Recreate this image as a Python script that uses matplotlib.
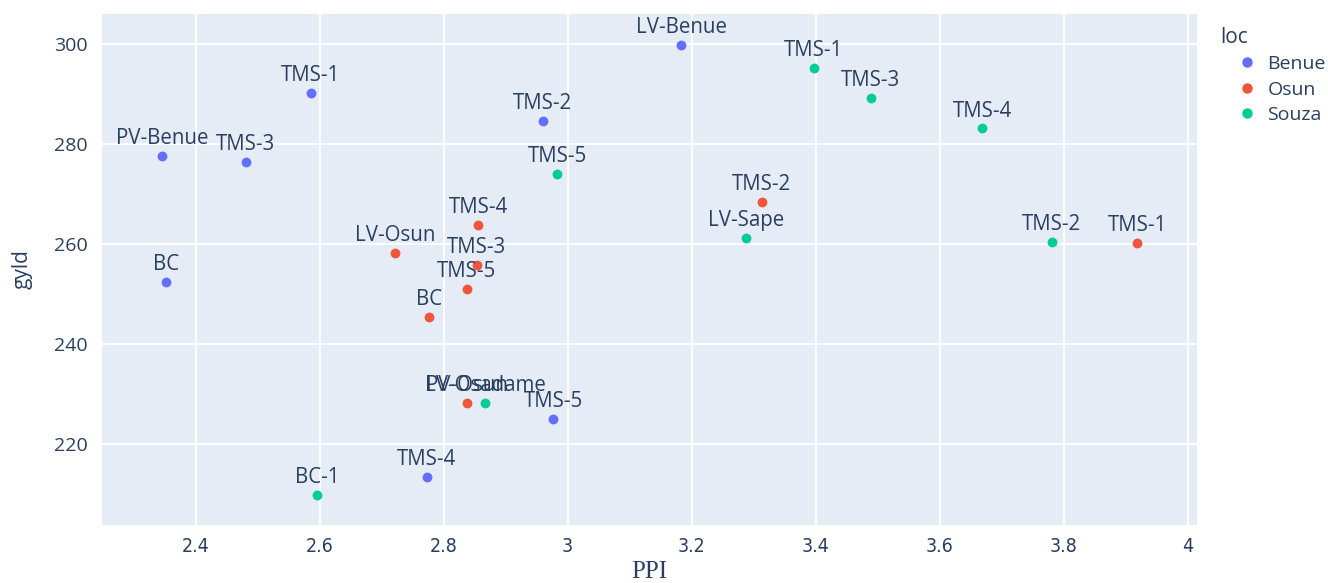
import matplotlib
matplotlib.use("Agg")
import matplotlib.pyplot as plt
from matplotlib.lines import Line2D

# ---- data ----
benue_labels = ["PV-Benue", "BC", "TMS-3", "TMS-1", "TMS-2", "LV-Benue", "TMS-5", "TMS-4"]
benue_ppi = [2.346, 2.352, 2.481, 2.586, 2.960, 3.183, 2.977, 2.773]
benue_gyld = [277.7, 252.5, 276.4, 290.3, 284.7, 299.8, 225.1, 213.5]

osun_labels = ["LV-Osun", "BC", "TMS-4", "TMS-3", "TMS-5", "PV-Osun", "TMS-2", "TMS-1"]
osun_ppi = [2.722, 2.776, 2.856, 2.853, 2.837, 2.837, 3.313, 3.919]
osun_gyld = [258.2, 245.4, 263.9, 255.8, 251.1, 228.3, 268.5, 260.3]

souza_labels = ["TMS-1", "TMS-3", "TMS-4", "TMS-5", "LV-Sape", "TMS-2", "BC-1", "LV-Osadame"]
souza_ppi = [3.397, 3.489, 3.669, 2.983, 3.288, 3.781, 2.596, 2.867]
souza_gyld = [295.3, 289.3, 283.1, 274.0, 261.3, 260.5, 209.9, 228.3]

groups = ["Benue", "Osun", "Souza"]
colors = ["#636EFA", "#EF553B", "#00CC96"]

x_ticks = [2.4, 2.6, 2.8, 3.0, 3.2, 3.4, 3.6, 3.8, 4.0]
x_ticklabels = ["2.4", "2.6", "2.8", "3", "3.2", "3.4", "3.6", "3.8", "4"]
y_ticks = [220, 240, 260, 280, 300]

# ---- figure ----
TXT = "#2a3f5f"
plt.rcParams["font.family"] = ["Open Sans", "DejaVu Sans"]

fig = plt.figure(figsize=(13.28, 5.83), dpi=100)
fig.patch.set_facecolor("white")
ax = fig.add_axes([102 / 1328, 1 - 525 / 583, (1197 - 102) / 1328, (525 - 14) / 583])
ax.set_facecolor("#E5ECF6")
for s in ax.spines.values():
    s.set_visible(False)

ax.set_xlim(2.249, 4.015)
ax.set_ylim(203.8, 306.0)
ax.set_xticks(x_ticks)
ax.set_xticklabels(x_ticklabels)
ax.set_yticks(y_ticks)
ax.grid(True, color="white", linewidth=1.3)
ax.set_axisbelow(True)
ax.tick_params(axis="both", length=0, colors=TXT, labelsize=14)
ax.tick_params(axis="x", pad=9)
ax.tick_params(axis="y", pad=10)
for lab in ax.get_xticklabels():
    lab.set_family("DejaVu Sans")
    lab.set_stretch("condensed")
    lab.set_fontsize(14)

data = [
    (benue_labels, benue_ppi, benue_gyld),
    (osun_labels, osun_ppi, osun_gyld),
    (souza_labels, souza_ppi, souza_gyld),
]
for (labels, xs, ys), col in zip(data, colors):
    ax.scatter(xs, ys, s=50, color=col, zorder=3, linewidths=0)
    for lab, x, y in zip(labels, xs, ys):
        ax.annotate(lab, (x, y), xytext=(0, 8.5), textcoords="offset points",
                    ha="center", va="baseline", fontsize=14.8, color=TXT, zorder=4)

ax.set_ylabel("gyld", fontsize=15, color=TXT, labelpad=16)
ax.set_xlabel("PPI", fontsize=18, color=TXT, family=["Liberation Serif", "DejaVu Serif"], labelpad=3)

handles = [Line2D([0], [0], marker="o", linestyle="", markersize=7.5,
                  markerfacecolor=c, markeredgewidth=0) for c in colors]
leg = fig.legend(handles, groups, title="loc", loc="upper left",
                 bbox_to_anchor=(1212 / 1328, 1 - 19 / 583), frameon=False,
                 fontsize=14, title_fontsize=15, handlelength=2.8,
                 handletextpad=-0.35, labelspacing=0.38, borderaxespad=0)
leg._legend_box.align = "left"
for t in leg.get_texts():
    t.set_color(TXT)
leg.get_title().set_color(TXT)

fig.savefig("out.png", dpi=100)
